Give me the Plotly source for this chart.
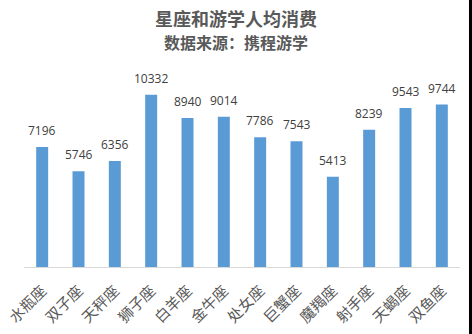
import plotly.graph_objects as go

# Average spend on study tours by zodiac sign
signs = ["水瓶座", "双子座", "天秤座", "狮子座", "白羊座", "金牛座",
         "处女座", "巨蟹座", "魔羯座", "射手座", "天蝎座", "双鱼座"]
spend = [7196, 5746, 6356, 10332, 8940, 9014, 7786, 7543, 5413, 8239, 9543, 9744]

title_main = "星座和游学人均消费"
title_sub = "数据来源：携程游学"

BAR_COLOR = "#5b9bd5"
CJK = "Noto Sans CJK SC"

fig = go.Figure()
fig.add_trace(go.Bar(
    x=signs,
    y=spend,
    marker=dict(color=BAR_COLOR, line=dict(width=0)),
    hoverinfo="skip",
))

# value labels above each bar
annotations = [
    dict(x=s, y=v, xref="x", yref="y", text=str(v), showarrow=False,
         yanchor="bottom", yshift=6,
         font=dict(family="Open Sans, Liberation Sans", size=12, color="#404040"))
    for s, v in zip(signs, spend)
]

# two-line title
annotations += [
    dict(x=0.486, y=1.245, xref="paper", yref="paper", text=f"<b>{title_main}</b>",
         showarrow=False, xanchor="center", yanchor="middle",
         font=dict(family=CJK, size=18, color="#595959")),
    dict(x=0.486, y=1.125, xref="paper", yref="paper", text=f"<b>{title_sub}</b>",
         showarrow=False, xanchor="center", yanchor="middle",
         font=dict(family=CJK, size=16, color="#595959")),
]

fig.update_layout(
    width=472, height=334,
    margin=dict(l=24, r=12, t=67, b=67, autoexpand=False),
    paper_bgcolor="white",
    plot_bgcolor="white",
    bargap=0.67,
    showlegend=False,
    annotations=annotations,
    shapes=[dict(type="rect", xref="paper", yref="paper",
                 x0=1.0206, x1=1.05, y0=-0.5, y1=1.5,
                 fillcolor="black", line=dict(width=0), layer="above")],
    xaxis=dict(
        tickangle=-45,
        tickfont=dict(family=CJK, size=15, color="#595959"),
        ticklabelstandoff=8,
        automargin=False,
        showline=True, linecolor="#d9d9d9", linewidth=1,
        ticks="", showgrid=False, fixedrange=True,
    ),
    yaxis=dict(
        range=[0, 12000],
        visible=False, showgrid=False, zeroline=False, fixedrange=True,
    ),
)

fig.write_html("out.html", config={"displayModeBar": False})
